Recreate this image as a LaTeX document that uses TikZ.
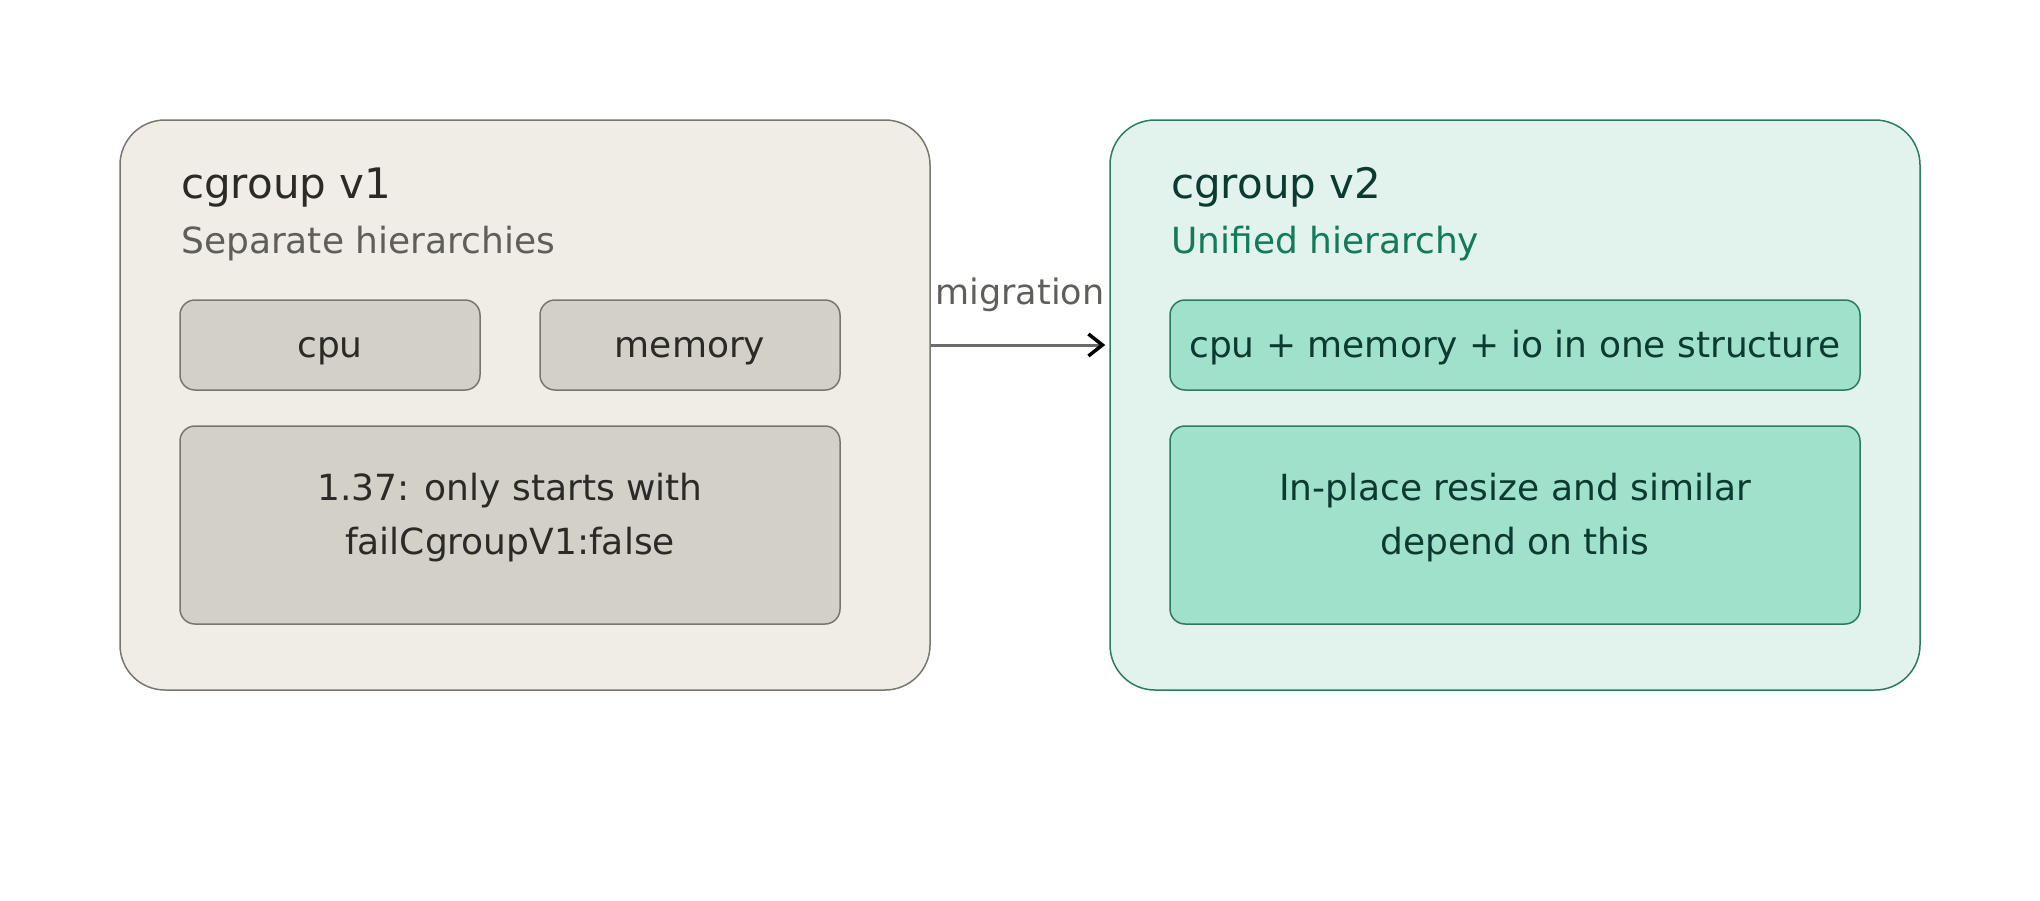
\documentclass[tikz,border=0pt]{standalone}
\usepackage{fontspec}
\setmainfont{DejaVu Sans}
\usetikzlibrary{positioning,arrows.meta}
\definecolor{oldfill}{HTML}{F0EDE6}
\definecolor{oldline}{HTML}{77776F}
\definecolor{oldbox}{HTML}{D3D0C7}
\definecolor{oldtext}{HTML}{2B2A26}
\definecolor{oldsub}{HTML}{5F5E5A}
\definecolor{arrowgray}{HTML}{6B6B67}
\definecolor{newfill}{HTML}{E1F3EC}
\definecolor{newline}{HTML}{2B7B61}
\definecolor{newbox}{HTML}{A0E1CB}
\definecolor{newtext}{HTML}{0B3A30}
\definecolor{newsub}{HTML}{137A5B}

\begin{document}
\begin{tikzpicture}[x=1pt, y=-1pt, every node/.style={font=\fontsize{36}{54}\selectfont}]
  \tikzset{
    panel/.style={draw, line width=1.5pt, rounded corners=45pt, minimum width=810pt, minimum height=570pt},
    item/.style={draw, line width=1.5pt, rounded corners=15pt, minimum height=90pt, inner sep=0pt, text height=30pt, text depth=6pt},
    bigitem/.style={draw, line width=1.5pt, rounded corners=15pt, minimum height=198pt, inner sep=0pt, align=center},
    title/.style={anchor=base west, inner sep=0pt, font=\fontsize{42}{50}\selectfont},
    subtitle/.style={anchor=base west, inner sep=0pt}
  }
  \useasboundingbox (0,0) rectangle (2040,900);

  % Left panel: cgroup v1
  \node[panel, fill=oldfill, draw=oldline] (v1) at (525,405) {};
  \node[title, text=oldtext] (v1title) at (181,198) {cgroup v1};
  \node[subtitle, text=oldsub] (v1sub) at (181,253) {Separate hierarchies};
  \node[item, fill=oldbox, draw=oldline, text=oldtext, minimum width=300pt] (cpu) at (330,345) {cpu};
  \node[item, fill=oldbox, draw=oldline, text=oldtext, minimum width=300pt] (mem) at (690,345) {memory};
  \node[bigitem, fill=oldbox, draw=oldline, text=oldtext, minimum width=660pt] (v1note) at (510,525)
    {1.37: only starts with\\ failCgroupV1:false\rule[-21.5pt]{0pt}{1pt}};

  % Right panel: cgroup v2
  \node[panel, fill=newfill, draw=newline] (v2) at (1515,405) {};
  \node[title, text=newtext] (v2title) at (1171,198) {cgroup v2};
  \node[subtitle, text=newsub] (v2sub) at (1171,253) {Unified hierarchy};
  \node[item, fill=newbox, draw=newline, text=newtext, minimum width=690pt] (unified) at (1515,345) {cpu + memory + io in one structure};
  \node[bigitem, fill=newbox, draw=newline, text=newtext, minimum width=690pt] (v2note) at (1515,525)
    {In-place resize and similar\\ depend on this\rule[-21.5pt]{0pt}{1pt}};

  % migration arrow
  \draw[line width=3pt, color=arrowgray, shorten >=4pt,
        -{Straight Barb[black, length=14pt, width=22pt, line width=3.5pt]}]
    (v1.east |- cpu.east) -- (v2.west |- cpu.east)
    node[midway, above=32pt, inner sep=0pt, text=oldsub, font=\fontsize{35}{42}\selectfont] (mig) {migration};
\end{tikzpicture}
\end{document}
